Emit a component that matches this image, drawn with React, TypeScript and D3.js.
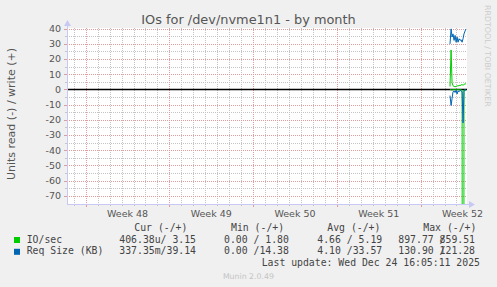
import React from "react";
import * as d3 from "d3";

// ---- data (days from left edge of the 33-day window) ----
const times = [32.02, 32.11, 32.19, 32.27, 32.36, 32.44, 32.53, 32.61, 32.69, 32.78, 32.86, 32.94, 33.03, 33.11, 33.19, 33.28, 33.36];
const ioWrite = [2, 26, 4.5, 2.5, 2, 1.8, 2, 2.5, 2.2, 2.8, 2.5, 3, 3.2, 2.8, 3.3, 3.8, 3.5];
const ioRead = [0, -0.3, -0.2, -0.2, -0.1, -0.2, -0.1, -0.2, -0.1, -0.2, -0.1, -0.2, -0.5, -900, -0.5, -0.4, -0.4];
const reqWrite = [30, 39.9, 34.5, 36.6, 32.3, 35.6, 31.1, 34.5, 31.1, 33.4, 32.3, 32.8, 31.1, 33.4, 36.6, 38.5, 39.9];
const reqRead = [-4, -10.5, -6, -1.5, -1, -2, -0.5, -3, -1, -1.5, -0.5, -1, -1.5, -22, -0.3, -0.3, -0.3];

const weekStarts = [1.56, 8.56, 15.56, 22.56, 29.56];
const weekLabels = ["Week 48", "Week 49", "Week 50", "Week 51", "Week 52"];
const yMajor = [40, 30, 20, 10, 0, -10, -20, -30, -40, -50, -60, -70];
const yMinor = [35, 25, 15, 5, -5, -15, -25, -35, -45, -55, -65];

const legendHeader = ["Cur (-/+)", "Min (-/+)", "Avg (-/+)", "Max (-/+)"];
const seriesNames = ["IO/sec", "Req Size (KB)"];
const seriesColors = ["#00cc00", "#0066b3"];
const curVals = ["406.38u/ 3.15", "337.35m/39.14"];
const minVals = ["0.00 / 1.80", "0.00 /14.38"];
const avgVals = ["4.66 / 5.19", "4.10 /33.57"];
const maxNeg = ["897.77", "130.90"];
const maxPos = ["859.51", "121.28"];

const W = 497, H = 287;
const L = 67, R = 467, T = 28, B = 204;

export default function App() {
  const x = d3.scaleLinear().domain([0, 33.44]).range([L, R]);
  const y = d3.scaleLinear().domain([-75.33, 40.46]).range([B, T]);
  const c = (v: number) => Math.round(v) + 0.5;
  const dayLines = d3.range(0.56, 33.4, 1);

  const mk = (vals: number[]) =>
    d3.line<number>().x((_, i) => x(times[i])).y((v) => y(v))(vals) || "";

  const vPath = (ds: number[], y0: number, y1: number) =>
    ds.map((d) => `M${c(x(d))},${y0}V${y1}`).join("");

  const sans = "DejaVu Sans, sans-serif";
  const mono = "DejaVu Sans Mono, monospace";
  const cw = 5.9;
  const legendFs = 9.8;
  const minorC = "#c4c4c4";
  const majorC = "#e09c9c";

  return (
    <svg width={W} height={H} style={{ position: "fixed", left: 0, top: 0, background: "#f0f0f0" }}>
      <defs>
        <clipPath id="plot">
          <rect x={L} y={T} width={R - L} height={B - T} />
        </clipPath>
      </defs>
      <rect width={W} height={H} fill="#f0f0f0" />
      <rect x={L} y={T} width={R - L} height={B - T} fill="#ffffff" />
      <g shapeRendering="crispEdges">
        {/* minor grid */}
        <path d={vPath(dayLines, T, B)} stroke={minorC} strokeDasharray="1,1" fill="none" />
        <path d={vPath(dayLines, B, B + 2)} stroke={minorC} fill="none" />
        {yMinor.map((v) => (
          <g key={"hm" + v}>
            <line x1={L} x2={R} y1={c(y(v))} y2={c(y(v))} stroke={minorC} strokeDasharray="1,1" />
            <line x1={L - 2} x2={L} y1={c(y(v))} y2={c(y(v))} stroke={minorC} />
          </g>
        ))}
        {/* major grid */}
        <path d={vPath(weekStarts, T, B)} stroke={majorC} strokeDasharray="1,1" fill="none" />
        <path d={vPath(weekStarts, B, B + 3)} stroke={majorC} fill="none" />
        {yMajor.map((v) => (
          <g key={"hM" + v}>
            <line x1={L} x2={R} y1={c(y(v))} y2={c(y(v))} stroke={majorC} strokeDasharray="1,1" />
            <line x1={L - 3} x2={L} y1={c(y(v))} y2={c(y(v))} stroke={majorC} />
          </g>
        ))}
      </g>
      {yMajor.map((v) => (
        <text key={"yl" + v} x={61} y={y(v) + 3.4} textAnchor="end" fontFamily={sans} fontSize={9.5} fill="#555">
          {v}
        </text>
      ))}
      {weekStarts.map((d, i) => (
        <text key={"wl" + i} x={x(d + 3.5)} y={217} textAnchor="middle" fontFamily={sans} fontSize={9.5} fill="#555">
          {weekLabels[i]}
        </text>
      ))}
      {/* zero line */}
      <line x1={L} x2={R} y1={y(0)} y2={y(0)} stroke="#000" strokeWidth={1.5} />
      {/* series */}
      <g clipPath="url(#plot)" fill="none" strokeWidth={1}>
        <path d={mk(ioWrite)} stroke={seriesColors[0]} />
        <path d={mk(ioRead)} stroke={seriesColors[0]} />
        <path d={mk(reqWrite)} stroke={seriesColors[1]} />
        <path d={mk(reqRead)} stroke={seriesColors[1]} />
      </g>
      {/* axes */}
      <line x1={c(L)} x2={c(L)} y1={B} y2={T - 4} stroke="#c8c8f4" />
      <path d={`M${L - 3},${T - 2} L${L + 0.5},${T - 8} L${L + 4},${T - 2} Z`} fill="#c8c8f4" />
      <line x1={L} x2={R + 4} y1={c(B)} y2={c(B)} stroke="#c8c8f4" />
      <path d={`M${R + 2},${B - 3} L${R + 8},${B + 0.5} L${R + 2},${B + 4} Z`} fill="#c8c8f4" />
      {/* titles */}
      <text x={248.5} y={24} textAnchor="middle" fontFamily={sans} fontSize={12.9} fill="#555">
        IOs for /dev/nvme1n1 - by month
      </text>
      <text transform="translate(15,114) rotate(-90)" textAnchor="middle" fontFamily={sans} fontSize={11} fill="#555">
        Units read (-) / write (+)
      </text>
      <text transform="translate(485,5) rotate(90)" textAnchor="start" fontFamily={sans} fontSize={7.9} fill="#cccccc">
        RRDTOOL / TOBI OETIKER
      </text>
      {/* legend */}
      <g fontFamily={mono} fontSize={legendFs} fill="#444" style={{ whiteSpace: "pre" }}>
        <text x={134.3} y={230.5}>{legendHeader[0]}</text>
        <text x={231} y={230.5}>{legendHeader[1]}</text>
        <text x={327.3} y={230.5}>{legendHeader[2]}</text>
        <text x={423.3} y={230.5}>{legendHeader[3]}</text>
        {seriesNames.map((n, i) => {
          const yy = 242.5 + i * 11.8;
          return (
            <g key={n}>
              <rect x={14} y={yy - 5.5} width={6} height={6} fill={seriesColors[i]} />
              <text x={26.7} y={yy}>{n}</text>
              <text x={119.3} y={yy}>{curVals[i]}</text>
              <text x={224} y={yy}>{minVals[i]}</text>
              <text x={317.3} y={yy}>{avgVals[i]}</text>
              <text x={398.3} y={yy}>{maxNeg[i]}</text>
              <text x={398.3 + 7 * cw} y={yy}>/</text>
              <text x={398.3 + 7 * cw} y={yy}>{maxPos[i]}</text>
            </g>
          );
        })}
        <text x={261.7} y={266}>Last update: Wed Dec 24 16:05:11 2025</text>
      </g>
      <text x={248.4} y={279} textAnchor="middle" fontFamily={sans} fontSize={7.8} fill="#c4c4c4">
        Munin 2.0.49
      </text>
    </svg>
  );
}
